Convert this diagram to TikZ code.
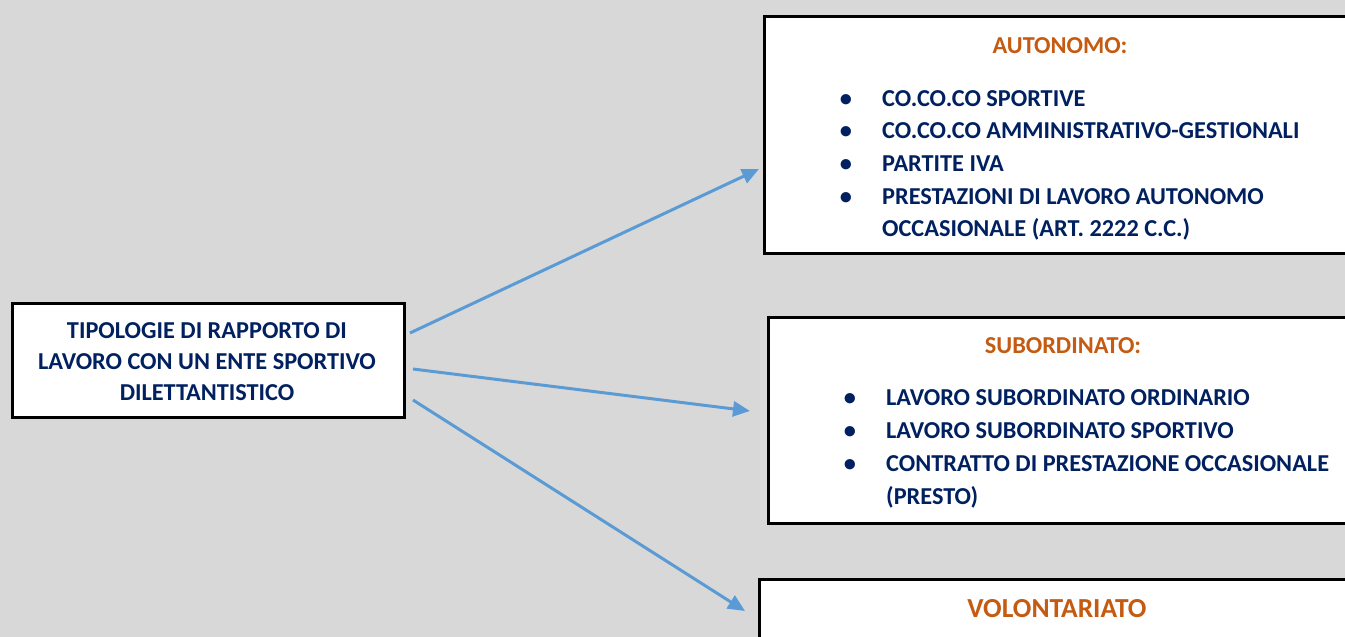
\documentclass[tikz,border=0pt]{standalone}
\usepackage{fontspec}
\setmainfont{Carlito}
\usetikzlibrary{arrows.meta}
\definecolor{bg}{HTML}{D8D8D8}
\definecolor{navy}{HTML}{002060}
\definecolor{hdr}{HTML}{C55A11}
\definecolor{arr}{HTML}{5B9BD5}
\tikzset{
  box/.style={draw=black, line width=3.2pt, fill=white, rectangle, inner sep=0pt},
  txt/.style={text=navy, font=\fontsize{24.3}{31}\selectfont\bfseries, inner sep=0pt},
  head/.style={text=hdr, font=\fontsize{24.3}{31}\selectfont\bfseries, inner sep=0pt, anchor=base},
  item/.style={txt, anchor=base west},
  bul/.style={txt, anchor=base},
  conn/.style={draw=arr, line width=3pt, -{Triangle[length=17pt,width=15pt]}}
}
\begin{document}
\begin{tikzpicture}[x=1pt,y=-1pt]
\clip (0,0) rectangle (1345,637);
\fill[bg] (0,0) rectangle (1345,637);
% boxes
\node[box, minimum width=392pt, minimum height=114pt, anchor=north west] (main) at (11,302) {};
\node[box, minimum width=620pt, minimum height=237pt, anchor=north west] (auto) at (763,15) {};
\node[box, minimum width=620pt, minimum height=206pt, anchor=north west] (sub) at (767,316) {};
\node[box, minimum width=620pt, minimum height=100pt, anchor=north west] (vol) at (758,578) {};
% main text
\node[txt, anchor=base] (m1) at (207,338) {TIPOLOGIE DI RAPPORTO DI};
\node[txt, anchor=base] (m2) at (207,369) {LAVORO CON UN ENTE SPORTIVO};
\node[txt, anchor=base] (m3) at (207,400) {DILETTANTISTICO};
% autonomo
\node[head] (ah) at (1060,53) {AUTONOMO:};
\node[bul] (ab1) at (846,106) {•};
\node[bul] (ab2) at (846,138) {•};
\node[bul] (ab3) at (846,171) {•};
\node[bul] (ab4) at (846,204) {•};
\node[item] (a1) at (882,106) {CO.CO.CO SPORTIVE};
\node[item] (a2) at (882,138) {CO.CO.CO AMMINISTRATIVO-GESTIONALI};
\node[item] (a3) at (882,171) {PARTITE IVA};
\node[item] (a4) at (882,204) {PRESTAZIONI DI LAVORO AUTONOMO};
\node[item] (a5) at (882,236) {OCCASIONALE (ART. 2222 C.C.)};
% subordinato
\node[head] (sh) at (1063,353) {SUBORDINATO:};
\node[bul] (sb1) at (850,405) {•};
\node[bul] (sb2) at (850,438) {•};
\node[bul] (sb3) at (850,471) {•};
\node[item] (s1) at (886,405) {LAVORO SUBORDINATO ORDINARIO};
\node[item] (s2) at (886,438) {LAVORO SUBORDINATO SPORTIVO};
\node[item] (s3) at (886,471) {CONTRATTO DI PRESTAZIONE OCCASIONALE};
\node[item] (s4) at (886,504) {(PRESTO)};
% volontariato
\node[head, font=\fontsize{27.5}{31}\selectfont\bfseries] (vh) at (1057,617) {VOLONTARIATO};
% connectors
\coordinate (c1s) at (410,333);
\coordinate (c1e) at (759,169);
\coordinate (c2s) at (413,369);
\coordinate (c2e) at (750,411);
\coordinate (c3s) at (413,400);
\coordinate (c3e) at (745,611);
\draw[conn] (c1s) -- (c1e);
\draw[conn] (c2s) -- (c2e);
\draw[conn] (c3s) -- (c3e);
\end{tikzpicture}
\end{document}
